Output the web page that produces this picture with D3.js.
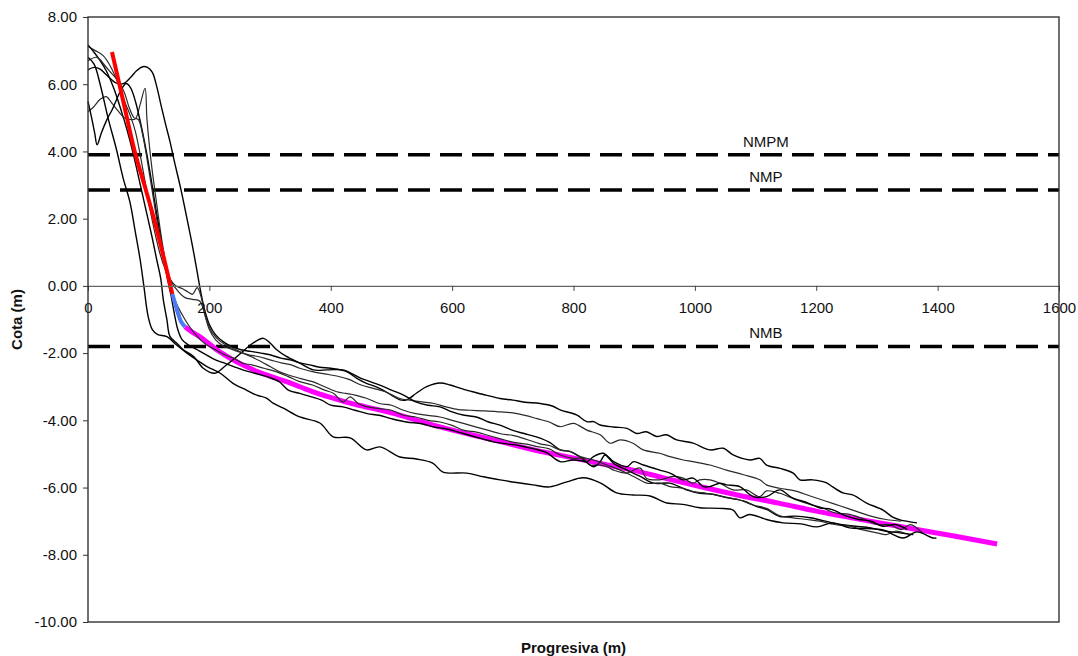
<!DOCTYPE html>
<html>
<head>
<meta charset="utf-8">
<script src="https://cdn.jsdelivr.net/npm/d3@7"></script>
<style>
  body { margin: 0; background: #fff; }
  text { font-family: Arial, "Liberation Sans", sans-serif; }
</style>
</head>
<body>
<div id="chart"></div>
<script>
// Tick labels
const xTicks = [0, 200, 400, 600, 800, 1000, 1200, 1400, 1600];
const yTicks = [8, 6, 4, 2, 0, -2, -4, -6, -8, -10];

// Reference levels (m)
const niveles = [
    {name: "NMPM", cota: 3.9,  labelX: 1117},
    {name: "NMP",  cota: 2.85, labelX: 1117},
    {name: "NMB",  cota: -1.8, labelX: 1117}
];

// Measured profiles [progresiva, cota]
const perfilH = [[0,6.43],[10,6.5],[20,6.45],[32,6.25],[45,6.05],[58,6.02],[70,6.2],[80,6.4],[90,6.52],[98,6.5],[106,6.35],[113,5.95],[120,5.4],[128,4.8],[135,4.3],[143,3.65],[152,2.96],[162,2.1],[172,1.2],[180,0.4],[186,-0.2],[192,-0.7],[200,-1.15],[210,-1.45],[222,-1.65],[236,-1.8],[252,-1.9],[268,-1.95],[285,-2.0],[300,-2.05],[318,-2.15],[333,-2.2],[349,-2.29],[365,-2.35],[382,-2.42],[400,-2.45],[427,-2.56],[443,-2.75],[459,-2.9],[472,-2.98],[486,-3.1],[500,-3.25],[514,-3.39],[525,-3.39],[542,-3.18],[558,-3.0],[580,-2.89],[597,-2.95],[613,-3.04],[634,-3.15],[656,-3.25],[679,-3.35],[700,-3.4],[720,-3.46],[745,-3.5],[766,-3.58],[778,-3.69],[805,-3.84],[822,-4.04],[833,-4.04],[844,-4.14],[866,-4.2],[888,-4.24],[904,-4.39],[920,-4.34],[937,-4.48],[953,-4.43],[970,-4.58],[997,-4.68],[1025,-4.88],[1047,-4.83],[1063,-5.03],[1091,-5.18],[1107,-5.13],[1118,-5.33],[1140,-5.43],[1162,-5.57],[1173,-5.77],[1194,-5.77],[1217,-5.86],[1227,-5.98],[1244,-6.16],[1260,-6.22],[1283,-6.46],[1310,-6.67],[1326,-6.88],[1338,-6.96],[1366,-7.05]];

const perfilS = [[0,7.12],[12,7.0],[25,6.85],[38,6.5],[50,6.0],[60,5.5],[70,5.05],[78,4.6],[86,3.9],[94,3.1],[102,2.3],[110,1.6],[118,1.0],[126,0.55],[135,0.2],[145,0.0],[155,-0.08],[165,-0.18],[172,-0.25],[180,-0.05],[186,-0.3],[192,-0.8],[200,-1.3],[210,-1.6],[222,-1.78],[236,-1.88],[250,-1.97],[265,-2.05],[280,-2.1],[300,-2.2],[320,-2.3],[335,-2.35],[349,-2.45],[370,-2.55],[390,-2.62],[410,-2.68],[430,-2.78],[450,-2.95],[470,-3.05],[490,-3.15],[514,-3.35],[530,-3.4],[550,-3.45],[570,-3.5],[590,-3.6],[610,-3.68],[630,-3.7],[655,-3.72],[679,-3.75],[700,-3.78],[720,-3.85],[740,-3.95],[760,-4.05],[778,-4.19],[800,-4.09],[822,-4.29],[844,-4.43],[860,-4.68],[877,-4.58],[898,-4.68],[915,-4.88],[942,-4.98],[959,-5.08],[981,-5.18],[997,-5.23],[1025,-5.33],[1052,-5.48],[1080,-5.62],[1107,-5.77],[1118,-5.92],[1140,-6.02],[1165,-6.1],[1190,-6.25],[1215,-6.4],[1240,-6.55],[1265,-6.7],[1290,-6.85],[1315,-6.95],[1340,-7.0]];

const perfilM1 = [[0,7.17],[10,6.95],[20,6.7],[30,6.4],[42,5.9],[55,5.2],[65,4.6],[75,3.9],[85,3.1],[95,2.3],[105,1.5],[113,0.8],[120,0.2],[124,-0.4],[130,-1.0],[135,-1.5],[146,-1.7],[157,-1.9],[174,-2.1],[190,-2.45],[209,-2.6],[225,-2.4],[239,-2.2],[255,-1.95],[272,-1.7],[289,-1.56],[300,-1.7],[311,-1.9],[327,-2.1],[349,-2.3],[371,-2.5],[395,-2.5],[420,-2.5],[450,-2.75],[481,-2.95],[500,-3.1],[520,-3.25],[540,-3.45],[560,-3.55],[580,-3.6],[600,-3.75],[620,-3.85],[640,-3.9],[660,-4.05],[680,-4.15],[700,-4.3],[720,-4.4],[740,-4.5],[760,-4.65],[778,-4.88],[795,-4.93],[810,-5.08],[822,-5.23],[833,-5.08],[849,-4.98],[866,-5.28],[888,-5.48],[910,-5.67],[932,-5.87],[959,-5.87],[986,-6.07],[1008,-6.17],[1030,-6.2],[1052,-6.3],[1080,-6.4],[1100,-6.55],[1118,-6.65],[1140,-6.86],[1165,-6.85],[1190,-6.9],[1215,-7.0],[1240,-7.1],[1265,-7.15],[1290,-7.2],[1315,-7.3],[1340,-7.35],[1360,-7.4]];

const perfilM2 = [[0,5.19],[8,5.3],[20,5.55],[30,5.63],[40,5.42],[50,5.2],[60,5.0],[70,4.95],[78,4.97],[86,5.4],[94,5.88],[97,5.0],[101,4.2],[106,3.4],[112,2.6],[118,1.8],[124,1.1],[130,0.5],[137,-0.1],[145,-0.5],[155,-0.85],[165,-1.15],[175,-1.4],[185,-1.6],[195,-1.75],[210,-1.9],[225,-2.05],[240,-2.15],[255,-2.3],[270,-2.35],[290,-2.45],[310,-2.55],[330,-2.7],[349,-2.85],[370,-2.95],[390,-3.1],[405,-3.2],[420,-3.45],[432,-3.3],[445,-3.5],[460,-3.6],[480,-3.65],[500,-3.7],[520,-3.85],[540,-3.9],[560,-4.0],[580,-4.05],[600,-4.15],[620,-4.3],[640,-4.35],[660,-4.45],[680,-4.55],[700,-4.65],[720,-4.7],[740,-4.78],[760,-4.85],[778,-5.03],[800,-5.13],[816,-5.13],[827,-5.33],[844,-5.33],[855,-5.38],[866,-5.48],[888,-5.57],[910,-5.42],[920,-5.72],[942,-5.77],[964,-5.67],[981,-5.72],[997,-5.87],[1008,-5.77],[1025,-5.77],[1041,-5.87],[1063,-6.07],[1085,-6.07],[1107,-6.27],[1118,-6.1],[1140,-6.17],[1165,-6.35],[1190,-6.5],[1210,-6.6],[1230,-6.75],[1255,-6.8],[1280,-6.95],[1300,-7.1],[1320,-7.1],[1340,-7.25],[1355,-7.1],[1375,-7.35]];

const perfilM3 = [[0,5.49],[6,5.0],[11,4.55],[15,4.2],[22,4.55],[31,4.94],[40,5.25],[47,5.54],[55,5.85],[63,6.02],[70,5.9],[78,5.5],[86,4.9],[94,4.2],[102,3.4],[110,2.5],[118,1.6],[125,0.8],[131,0.2],[137,-0.3],[142,-0.8],[148,-1.3],[155,-1.6],[165,-1.75],[180,-1.9],[195,-2.05],[210,-2.2],[225,-2.3],[240,-2.4],[255,-2.5],[275,-2.6],[295,-2.7],[315,-2.85],[330,-3.1],[349,-3.2],[368,-3.3],[385,-3.4],[400,-3.55],[420,-3.6],[440,-3.7],[460,-3.8],[480,-3.85],[500,-3.95],[525,-4.05],[550,-4.1],[570,-4.2],[590,-4.25],[610,-4.35],[630,-4.45],[650,-4.55],[670,-4.65],[690,-4.7],[710,-4.75],[735,-4.85],[755,-4.95],[778,-5.23],[800,-5.18],[819,-5.23],[833,-5.38],[844,-5.23],[852,-5.03],[866,-5.23],[888,-5.38],[899,-5.23],[915,-5.33],[942,-5.48],[959,-5.57],[981,-5.77],[997,-5.72],[1014,-5.97],[1025,-5.97],[1041,-5.87],[1052,-5.92],[1074,-5.97],[1096,-6.27],[1118,-6.27],[1140,-6.07],[1160,-6.3],[1185,-6.45],[1205,-6.6],[1225,-6.65],[1250,-6.85],[1270,-6.95],[1290,-7.0],[1310,-7.15],[1330,-7.1],[1350,-7.25]];

const perfilM4 = [[0,6.7],[15,6.8],[28,6.55],[40,6.3],[50,6.1],[60,5.75],[68,5.3],[76,5.0],[83,4.95],[90,4.5],[98,3.7],[106,2.8],[114,1.9],[122,1.1],[130,0.5],[138,0.1],[148,-0.15],[160,-0.35],[172,-0.4],[184,-0.45],[195,-1.0],[205,-1.4],[218,-1.65],[232,-1.8],[250,-1.95],[268,-2.1],[285,-2.25],[300,-2.4],[315,-2.55],[330,-2.65],[349,-2.75],[370,-2.85],[390,-3.0],[410,-3.15],[425,-3.2],[440,-3.25],[460,-3.35],[480,-3.5],[500,-3.55],[520,-3.7],[540,-3.8],[560,-3.85],[580,-3.9],[600,-4.0],[620,-4.1],[640,-4.2],[660,-4.3],[680,-4.4],[700,-4.45],[720,-4.55],[745,-4.7],[760,-4.75],[778,-4.88],[795,-4.93],[811,-5.08],[833,-5.18],[855,-5.33],[877,-5.48],[899,-5.67],[921,-5.87],[942,-5.87],[959,-5.97],[981,-6.02],[997,-6.12],[1019,-6.17],[1047,-6.27],[1074,-6.37],[1096,-6.52],[1118,-6.62],[1140,-6.84],[1162,-6.9],[1185,-6.95],[1205,-7.0],[1230,-7.1],[1255,-7.15],[1275,-7.25],[1300,-7.35],[1315,-7.4],[1330,-7.3],[1345,-7.35]];

const perfilP1 = [[0,6.8],[10,6.6],[20,6.0],[33,5.0],[47,4.05],[58,3.2],[69,2.5],[78,1.6],[86,0.77],[92,0.0],[99,-0.9],[106,-1.3],[115,-1.45],[130,-1.51],[146,-1.76],[163,-2.0],[179,-2.2],[196,-2.4],[218,-2.6],[239,-2.9],[261,-3.1],[278,-3.25],[294,-3.34],[305,-3.49],[322,-3.64],[349,-3.9],[382,-4.08],[404,-4.49],[432,-4.52],[459,-4.88],[481,-4.79],[514,-5.09],[541,-5.15],[568,-5.27],[585,-5.54],[624,-5.57],[652,-5.68],[679,-5.77],[706,-5.85],[733,-5.92],[761,-5.98],[789,-5.83],[816,-5.71],[844,-5.86],[871,-6.16],[898,-6.22],[926,-6.25],[954,-6.46],[980,-6.5],[1008,-6.6],[1040,-6.62],[1063,-6.67],[1074,-6.9],[1090,-6.8],[1118,-6.95],[1145,-7.05],[1175,-7.08],[1201,-7.17],[1227,-7.05],[1255,-7.2],[1283,-7.22],[1310,-7.26],[1343,-7.5],[1366,-7.32],[1392,-7.5],[1398,-7.5]];

// Design profile segments
const tramoRojo = [[39.5,6.96],[58,5.5],[77,4.0],[93,3.0],[108.7,2.0],[124,0.9],[139,-0.24]];
const tramoAzul = [[139,-0.24],[144,-0.55],[148,-0.8],[153,-1.05],[160,-1.22]];
const tramoMagenta = [[160,-1.22],[172,-1.38],[184,-1.51],[198,-1.7],[212,-1.9],[225,-2.05],[239,-2.2],[253,-2.33],[267,-2.45],[280,-2.56],[294,-2.65],[322,-2.82],[349,-3.0],[377,-3.19],[404,-3.34],[432,-3.49],[448,-3.56],[500,-3.78],[569,-4.14],[630,-4.42],[679,-4.63],[730,-4.86],[789,-5.08],[840,-5.27],[898,-5.48],[950,-5.72],[1008,-5.97],[1070,-6.22],[1140,-6.47],[1200,-6.7],[1270,-6.94],[1338,-7.16],[1420,-7.42],[1498,-7.68]];

const perfiles = [perfilH, perfilS, perfilM1, perfilM2, perfilM3, perfilM4, perfilP1];

const width = 1078, height = 656;
const marginTop = 17, marginRight = 19, marginBottom = 34, marginLeft = 88;

const x = d3.scaleLinear()
    .domain([0, 1600])
    .range([marginLeft, width - marginRight]);

const y = d3.scaleLinear()
    .domain([-10, 8])
    .range([height - marginBottom, marginTop]);

const svg = d3.select("#chart").append("svg")
    .attr("width", width)
    .attr("height", height)
    .attr("viewBox", [0, 0, width, height]);

svg.append("rect").attr("width", width).attr("height", height).attr("fill", "#fff");

// Reference levels (dashed)
svg.append("g")
    .selectAll("line")
    .data(niveles)
    .join("line")
        .attr("x1", x(0))
        .attr("x2", x(1600))
        .attr("y1", d => y(d.cota))
        .attr("y2", d => y(d.cota))
        .attr("stroke", "#000")
        .attr("stroke-width", 3.5)
        .attr("stroke-dasharray", "22,10");

svg.append("g")
    .selectAll("text")
    .data(niveles)
    .join("text")
        .attr("x", d => x(d.labelX))
        .attr("y", d => y(d.cota) - 8)
        .attr("text-anchor", "middle")
        .attr("font-size", 15)
        .attr("fill", "#111")
        .text(d => d.name);

const line = d3.line()
    .x(d => x(d[0]))
    .y(d => y(d[1]))
    .curve(d3.curveCatmullRom.alpha(0.5));

// magenta under the survey lines
svg.append("path")
    .attr("d", line(tramoMagenta))
    .attr("fill", "none")
    .attr("stroke", "#ff00ff")
    .attr("stroke-width", 5);

svg.append("g")
    .attr("fill", "none")
    .attr("stroke-linejoin", "round")
    .selectAll("path")
    .data(perfiles)
    .join("path")
        .attr("d", line)
        .attr("stroke", (d, i) => i % 2 ? "#2a2a2a" : "#000")
        .attr("stroke-width", (d, i) => i % 2 ? 1.2 : 1.4);

svg.append("path")
    .attr("d", line(tramoRojo))
    .attr("fill", "none")
    .attr("stroke", "#ff0000")
    .attr("stroke-width", 4);

svg.append("path")
    .attr("d", line(tramoAzul))
    .attr("fill", "none")
    .attr("stroke", "#4a7bf5")
    .attr("stroke-width", 4);

// Axes
const fmtY = d => d.toFixed(2);

svg.append("g")
    .attr("transform", `translate(0,${y(0)})`)
    .call(d3.axisBottom(x)
        .tickValues(xTicks)
        .tickFormat(d => String(d))
        .tickSizeInner(5)
        .tickSizeOuter(0)
        .tickPadding(11))
    .call(g => g.select(".domain").attr("stroke", "#666").attr("stroke-width", 1.3))
    .call(g => g.selectAll(".tick line").attr("stroke", "#444"))
    .call(g => g.selectAll("text")
        .attr("font-size", 15)
        .attr("font-family", "Arial, 'Liberation Sans', sans-serif")
        .attr("fill", "#111"));

svg.append("g")
    .attr("transform", `translate(${marginLeft},0)`)
    .call(d3.axisLeft(y)
        .tickValues(yTicks)
        .tickFormat(fmtY)
        .tickSizeInner(5)
        .tickSizeOuter(0)
        .tickPadding(6))
    .call(g => g.select(".domain").remove())
    .call(g => g.selectAll(".tick line").attr("stroke", "#333"))
    .call(g => g.selectAll("text")
        .attr("font-size", 15)
        .attr("font-family", "Arial, 'Liberation Sans', sans-serif")
        .attr("fill", "#111"));

// Plot frame
svg.append("rect")
    .attr("x", x(0))
    .attr("y", y(8))
    .attr("width", x(1600) - x(0))
    .attr("height", y(-10) - y(8))
    .attr("fill", "none")
    .attr("stroke", "#333")
    .attr("stroke-width", 1.4);

// Axis titles
svg.append("text")
    .attr("transform", `translate(22,${(y(8) + y(-10)) / 2}) rotate(-90)`)
    .attr("text-anchor", "middle")
    .attr("font-size", 15)
    .attr("font-weight", "bold")
    .attr("fill", "#111")
    .text("Cota (m)");

svg.append("text")
    .attr("x", (x(0) + x(1600)) / 2)
    .attr("y", 653)
    .attr("text-anchor", "middle")
    .attr("font-size", 15)
    .attr("font-weight", "bold")
    .attr("fill", "#111")
    .text("Progresiva (m)");
</script>
</body>
</html>
